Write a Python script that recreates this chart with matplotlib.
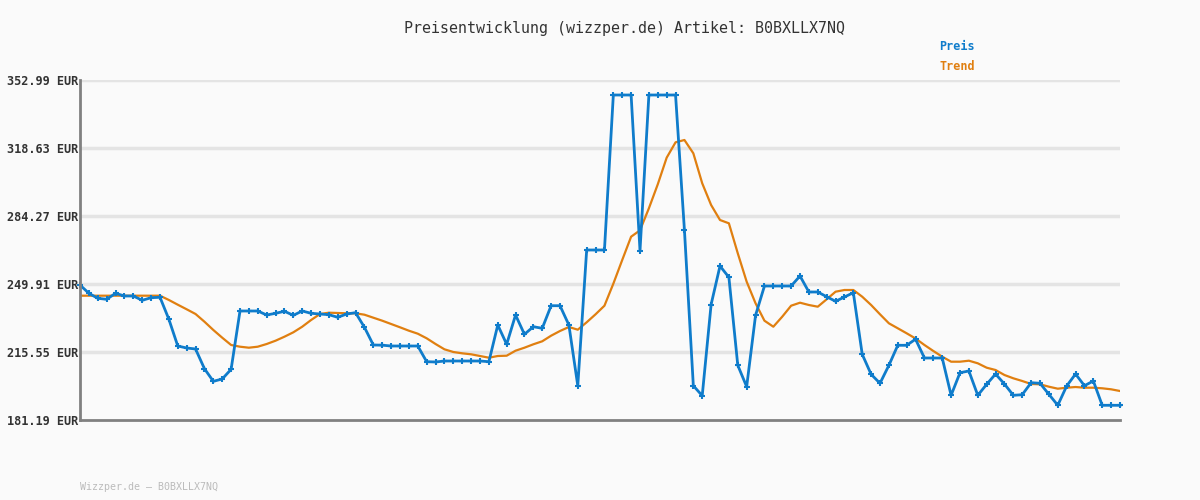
import matplotlib
matplotlib.use("Agg")
import matplotlib.pyplot as plt

title = "Preisentwicklung (wizzper.de) Artikel: B0BXLLX7NQ"
footer = "Wizzper.de – B0BXLLX7NQ"
y_ticks = [181.19, 215.55, 249.91, 284.27, 318.63, 352.99]
y_tick_labels = ["181.19 EUR", "215.55 EUR", "249.91 EUR", "284.27 EUR", "318.63 EUR", "352.99 EUR"]

preis = [
    249.40, 245.21, 242.68, 242.18, 245.21, 243.85, 243.85, 241.67, 242.99, 243.19,
    232.07, 218.58, 217.57, 217.07, 207.11, 200.74, 201.91, 206.81, 236.27, 236.27,
    236.27, 234.25, 235.10, 236.12, 234.09, 236.27, 235.10, 234.75, 234.40, 233.08,
    234.75, 235.41, 228.03, 219.09, 219.00, 218.58, 218.58, 218.58, 218.58, 210.65,
    210.50, 211.00, 211.00, 211.00, 211.00, 211.00, 210.65, 229.19, 219.44, 234.25,
    224.49, 228.33, 227.53, 238.94, 238.94, 229.19, 198.52, 267.09, 267.09, 267.09,
    345.41, 345.41, 345.41, 266.74, 345.41, 345.41, 345.41, 345.41, 277.04, 198.52,
    193.47, 239.55, 259.01, 253.30, 208.83, 198.02, 234.09, 248.90, 248.90, 248.90,
    248.90, 253.95, 245.87, 245.87, 243.49, 241.17, 243.34, 245.51, 214.39, 204.28,
    199.73, 208.83, 218.94, 218.94, 222.02, 212.52, 212.52, 212.52, 193.67, 205.09,
    205.95, 193.67, 199.23, 204.43, 199.38, 193.67, 193.97, 200.04, 199.73, 194.18,
    188.62, 198.37, 204.43, 198.52, 200.90, 188.62, 188.62, 188.62,
]

trend = [
    244.00, 244.00, 244.00, 244.00, 244.00, 244.00, 244.00, 244.00, 244.00, 244.00,
    241.83, 239.45, 237.13, 234.75, 230.86, 226.67, 222.78, 219.09, 218.23, 217.72,
    218.23, 219.59, 221.26, 223.28, 225.50, 228.33, 231.72, 234.75, 235.41, 235.26,
    235.10, 235.10, 234.40, 232.88, 231.37, 229.70, 228.03, 226.31, 224.80, 222.47,
    219.59, 216.91, 215.55, 214.89, 214.39, 213.53, 212.67, 213.53, 213.68, 216.21,
    217.72, 219.44, 220.96, 223.79, 226.16, 228.18, 226.82, 230.56, 234.60, 238.94,
    250.06, 262.04, 273.81, 277.04, 288.16, 300.29, 313.73, 321.51, 322.67, 315.95,
    300.79, 289.83, 282.25, 280.58, 265.42, 251.07, 240.16, 231.37, 228.33, 233.39,
    238.94, 240.46, 239.30, 238.44, 242.18, 246.02, 246.88, 246.88, 243.49, 239.30,
    234.60, 230.05, 227.53, 225.00, 222.37, 219.09, 216.06, 213.18, 210.65, 210.65,
    211.15, 209.84, 207.62, 206.45, 203.93, 202.26, 200.90, 199.38, 199.23, 198.02,
    197.01, 197.51, 197.86, 197.51, 197.51, 197.21, 196.70, 195.84,
]

bg = "#fafafa"
blue = "#0f7ccb"
orange = "#e07f10"

fig = plt.figure(figsize=(12, 5), dpi=100, facecolor=bg)
ax = fig.add_axes([80 / 1200, 1 - 420 / 500, 1040 / 1200, 340 / 500])
ax.set_facecolor(bg)

x = list(range(len(preis)))
ax.set_xlim(0, len(preis) - 1)
ax.set_ylim(y_ticks[0], y_ticks[-1])

for yv in y_ticks[1:]:
    ax.axhline(yv, color="#e4e4e4", lw=2.5, zorder=1)

ax.plot(x, trend, color=orange, lw=1.6, zorder=3, solid_joinstyle="round")
ax.plot(x, preis, color=blue, lw=2.0, zorder=4, marker="+", markersize=4.5,
        markeredgewidth=1.5, solid_joinstyle="round", clip_on=False)

ax.set_yticks(y_ticks)
ax.set_yticklabels(y_tick_labels, family="DejaVu Sans Mono", fontweight="bold",
                   fontsize=8.6, color="#333333")
ax.tick_params(axis="y", length=0, pad=1)
ax.set_xticks([])
for s in ["top", "right"]:
    ax.spines[s].set_visible(False)
for s in ["left", "bottom"]:
    ax.spines[s].set_color("#808080")
    ax.spines[s].set_linewidth(2)
    ax.spines[s].set_zorder(5)

fig.text(624 / 1200, 1 - 28 / 500, title, ha="center", va="center",
         family="DejaVu Sans Mono", fontsize=10.8, color="#333333")
fig.text(975 / 1200, 1 - 47 / 500, "Preis", ha="right", va="center",
         family="DejaVu Sans Mono", fontweight="bold", fontsize=8.5, color=blue)
fig.text(975 / 1200, 1 - 67 / 500, "Trend", ha="right", va="center",
         family="DejaVu Sans Mono", fontweight="bold", fontsize=8.5, color=orange)
fig.text(80 / 1200, 1 - 487 / 500, footer, ha="left", va="center",
         family="DejaVu Sans Mono", fontsize=7.2, color="#bbbbbb")

fig.savefig("out.png", dpi=100, facecolor=bg)
